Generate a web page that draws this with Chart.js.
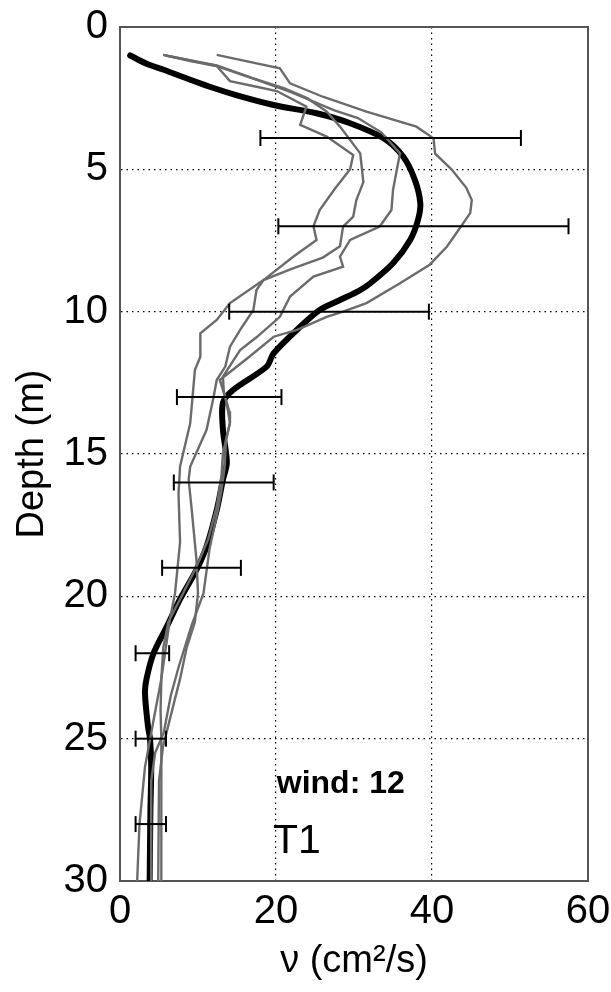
<!DOCTYPE html>
<html>
<head>
<meta charset="utf-8">
<script src="https://cdn.jsdelivr.net/npm/chart.js@4"></script>
<style>
  html, body { margin: 0; padding: 0; background: #fff; }
  canvas { display: block; }
</style>
</head>
<body>
<canvas id="profile" width="611" height="992"></canvas>
<script>
// viscosity profiles, [nu (cm2/s), depth (m)]
const meanProfile = [[1.3,1.0],[3.5,1.3],[5.6,1.5],[8.5,1.8],[11.5,2.1],[15,2.4],[19.7,2.74],[25.2,3.03],[29.5,3.38],[33.8,3.91],[36.3,4.55],[37.8,5.37],[38.5,6.19],[38.2,6.78],[37.2,7.48],[35.0,8.3],[32.1,9.0],[30.8,9.24],[28.2,9.59],[25.6,9.94],[23.1,10.53],[19.7,11.46],[18.8,11.93],[14.5,12.75],[13.2,13.2],[13.2,14.15],[13.7,15.3],[13.2,15.9],[12.4,16.97],[11.1,18.25],[9.8,19.07],[7.7,20.1],[6.0,21.06],[4.3,22.0],[3.4,22.9],[3.2,23.4],[3.6,24.6],[3.85,25.0],[4.0,26.0],[3.9,27.5],[3.8,30]];

const run1 = [[5.55,0.98],[9,1.2],[12.4,1.37],[14.1,1.9],[17.5,2.1],[20.1,2.25],[23.9,2.8],[23.1,3.44],[26.5,3.85],[29.9,4.5],[29.5,5.0],[27.5,5.7],[25.6,6.43],[24.8,7.0],[25.2,7.48],[22.2,8.07],[18.4,8.89],[14.1,9.7],[12.4,10.29],[10.3,10.76],[10.3,11.58],[9.6,12.05],[9.3,13.0],[9.0,13.92],[7.7,15.44],[7.5,16.4],[7.7,18.1],[7.05,19.9],[6.4,20.8],[5.3,22.9],[4.2,24.5],[3.2,26],[2.5,28],[2.2,30]];

const run2 = [[5.55,0.98],[12.4,1.37],[17,1.8],[21,2.15],[24,2.5],[26.5,2.97],[28.2,3.5],[30.8,4.44],[31.2,5.45],[30.3,6.08],[29.9,6.66],[28.6,7.01],[28.2,7.7],[26,8.1],[22,8.5],[18.4,8.89],[17.5,9.24],[17.1,9.94],[15.4,10.64],[14.1,11.23],[13.5,11.93],[12.4,12.4],[12.0,13.0],[11.1,14.15],[9.0,15.44],[8.8,15.9],[9.2,16.97],[9.8,18.7],[10.0,19.9],[9.6,20.9],[8.55,21.8],[7.7,22.9],[6.5,24.2],[5.5,25.3],[5.0,26.5],[4.9,30]];

const run3 = [[5.8,1.0],[12.4,1.35],[16.5,1.75],[22,2.3],[27.4,2.92],[30.5,3.2],[33.5,3.7],[35.9,4.44],[35.5,5.0],[35.0,5.73],[34.8,6.43],[33.3,7.01],[29.5,7.48],[28.2,8.07],[28.6,8.42],[24.8,8.77],[21.8,9.47],[20.5,10.18],[17.5,10.9],[15.4,11.35],[13.2,12.28],[13.3,12.8],[14.0,13.5],[14.1,13.9],[13.2,14.97],[13.0,15.8],[12.4,16.85],[11.3,18.0],[9.8,18.96],[7.7,20.1],[6.2,20.9],[5.55,21.8],[5.3,22.9],[5.2,24],[5.3,25],[5.3,30]];

const run4 = [[12.4,0.98],[20.5,1.45],[21.8,1.98],[26,2.45],[31.6,2.97],[38.0,3.5],[40.2,3.91],[40.4,4.45],[42.5,5.0],[44.4,5.65],[45.1,6.08],[44.9,6.54],[43.4,7.13],[41.9,7.72],[39.7,8.35],[35.9,9.0],[31.6,9.7],[28.6,10.0],[26.5,10.18],[22.7,10.64],[19.7,10.88],[16.5,11.6],[12.8,12.4],[13.5,13.0],[13.9,13.57],[14.1,13.9],[13.6,14.5],[13.4,15.5],[13.0,16.3],[12.3,17.3],[11.5,18.3],[10.7,19.9],[9.2,21.0],[7.5,22.5],[6.5,23.5],[5.6,24.8],[4.5,25.5],[4.0,26.5],[4.0,30]];

// horizontal error bars
const errDepth = [3.9, 7, 10, 13, 16, 19, 22, 25, 28];
const errLow   = [18.0, 20.3, 14.0, 7.3, 6.9, 5.4, 2.0, 2.0, 2.0];
const errHigh  = [51.4, 57.5, 39.6, 20.7, 19.7, 15.5, 6.3, 5.9, 5.9];

const windNote = 'wind: 12';
const caseNote = 'T1';

const FONT = '"Liberation Sans", Arial, Helvetica, sans-serif';

function pts(arr) {
  return arr.map(p => ({x: p[0], y: p[1]}));
}

const datasets = [];

errDepth.forEach((d, i) => {
  datasets.push({
    data: [{x: errLow[i], y: d}, {x: errHigh[i], y: d}],
    showLine: true,
    borderColor: '#000',
    borderWidth: 2,
    pointStyle: 'line',
    rotation: 90,
    pointRadius: 8,
    pointBorderWidth: 2,
    pointBorderColor: '#000',
    order: 0
  });
});

[run1, run2, run3, run4].forEach(r => {
  datasets.push({
    data: pts(r),
    showLine: true,
    borderColor: '#6b6b6b',
    borderWidth: 2.4,
    pointRadius: 0,
    tension: 0,
    order: 1
  });
});

datasets.push({
  data: pts(meanProfile),
  showLine: true,
  borderColor: '#000',
  borderWidth: 6,
  borderCapStyle: 'round',
  borderJoinStyle: 'round',
  pointRadius: 0,
  tension: 0.3,
  order: 2
});

const notesPlugin = {
  id: 'notes',
  afterDatasetsDraw(chart) {
    const {ctx} = chart;
    const x = chart.scales.x, y = chart.scales.y;
    ctx.save();
    ctx.fillStyle = '#000';
    ctx.textAlign = 'left';
    ctx.textBaseline = 'alphabetic';
    ctx.font = 'bold 32px ' + FONT;
    ctx.fillText(windNote, x.getPixelForValue(20.1), y.getPixelForValue(26.9));
    ctx.font = '41px ' + FONT;
    ctx.fillText(caseNote, x.getPixelForValue(19.6), y.getPixelForValue(29.0));
    ctx.restore();
  }
};

new Chart(document.getElementById('profile').getContext('2d'), {
  type: 'scatter',
  data: {datasets: datasets},
  plugins: [notesPlugin],
  options: {
    responsive: false,
    animation: false,
    devicePixelRatio: 1,
    layout: {padding: 0},
    plugins: {legend: {display: false}, tooltip: {enabled: false}},
    scales: {
      x: {
        type: 'linear',
        position: 'bottom',
        min: 0, max: 60,
        ticks: {stepSize: 20, color: '#000', font: {family: FONT, size: 40}, padding: 7, maxRotation: 0},
        grid: {color: '#000', lineWidth: 1.2, drawTicks: false},
        border: {display: true, color: '#555', width: 2, dash: [1.5, 4]},
        title: {display: true, text: 'ν (cm²/s)', color: '#000', font: {family: FONT, size: 38, lineHeight: 1}, padding: {top: 0, bottom: 11}},
        afterFit(s) { s.height = 111; s.paddingRight = 23; s.paddingLeft = 0; }
      },
      y: {
        type: 'linear',
        position: 'left',
        reverse: true,
        min: 0, max: 30,
        ticks: {stepSize: 5, color: '#000', font: {family: FONT, size: 40}, padding: 12},
        grid: {color: '#000', lineWidth: 1.2, drawTicks: false},
        border: {display: true, color: '#555', width: 2, dash: [1.5, 4]},
        title: {display: true, text: 'Depth (m)', color: '#000', font: {family: FONT, size: 38, lineHeight: 1}, padding: {top: 14, bottom: 0}},
        afterFit(s) { s.width = 120; s.paddingTop = 27; s.paddingBottom = 0; }
      },
      xTop: {
        type: 'linear',
        position: 'top',
        min: 0, max: 60,
        ticks: {display: false},
        grid: {drawOnChartArea: false, drawTicks: false},
        border: {display: true, color: '#555', width: 2},
        afterFit(s) { s.height = 0; s.paddingLeft = 0; s.paddingRight = 0; }
      },
      yRight: {
        type: 'linear',
        position: 'right',
        min: 0, max: 30,
        ticks: {display: false},
        grid: {drawOnChartArea: false, drawTicks: false},
        border: {display: true, color: '#555', width: 2},
        afterFit(s) { s.width = 0; s.paddingTop = 0; s.paddingBottom = 0; }
      }
    }
  }
});
</script>
</body>
</html>
